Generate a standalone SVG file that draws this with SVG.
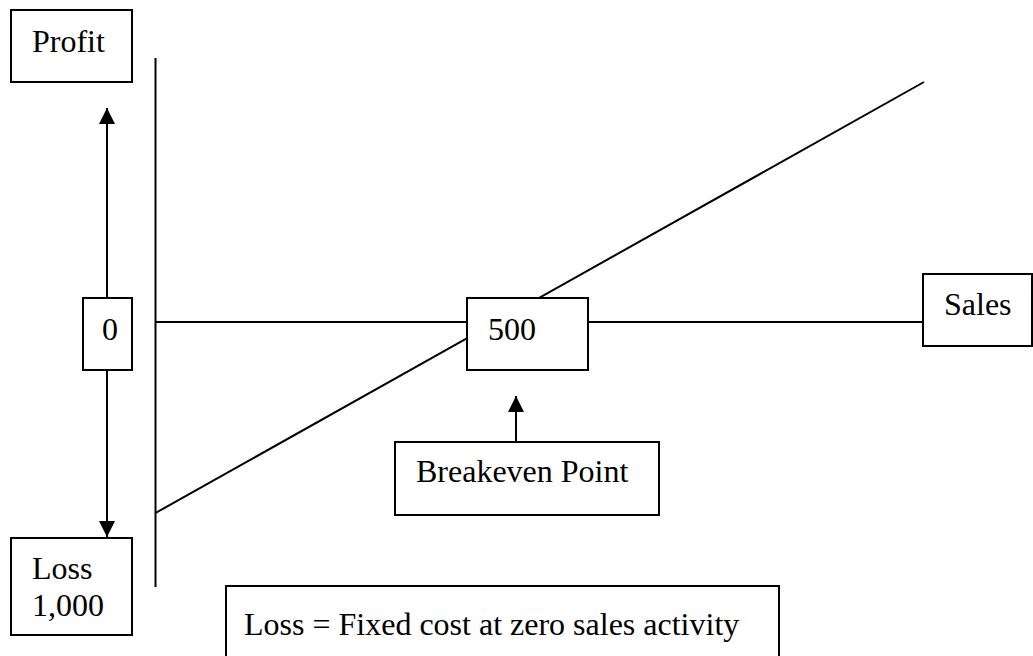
<svg xmlns="http://www.w3.org/2000/svg" width="1033" height="656" viewBox="0 0 1033 656">
<style>
.box{fill:#fff;stroke:#000;stroke-width:2}
.ln{stroke:#000;stroke-width:2;fill:none}
text{font-family:"Liberation Serif","Times New Roman",serif;font-size:32px;fill:#000}
</style>
<defs>
<marker id="ah" viewBox="0 0 10 10" refX="10" refY="5" markerWidth="16" markerHeight="16" markerUnits="userSpaceOnUse" orient="auto">
<path d="M0,0 L10,5 L0,10 Z" fill="#000"/>
</marker>
</defs>
<rect width="1033" height="656" fill="#fff"/>
<g id="connectors">
<line class="ln" x1="155.5" y1="58" x2="155.5" y2="587"/>
<line class="ln" x1="155.5" y1="322" x2="923" y2="322"/>
<line class="ln" x1="155.5" y1="513" x2="924" y2="82"/>
<line class="ln" x1="107" y1="298" x2="107" y2="108" marker-end="url(#ah)"/>
<line class="ln" x1="107" y1="370" x2="107" y2="537" marker-end="url(#ah)"/>
<line class="ln" x1="516" y1="442" x2="516" y2="396" marker-end="url(#ah)"/>
</g>
<g id="profit"><rect class="box" x="11" y="10" width="121" height="72"/><text x="32" y="52">Profit</text></g>
<g id="zero"><rect class="box" x="83" y="298" width="49" height="72"/><text x="102" y="340">0</text></g>
<g id="bep500"><rect class="box" x="467" y="298" width="121" height="72"/><text x="488" y="340">500</text></g>
<g id="sales"><rect class="box" x="923" y="274" width="109" height="72"/><text x="944" y="315">Sales</text></g>
<g id="loss"><rect class="box" x="11" y="538" width="121" height="97"/><text x="32" y="579">Loss</text><text x="32" y="616">1,000</text></g>
<g id="breakeven"><rect class="box" x="395" y="442" width="264" height="73"/><text x="416" y="482">Breakeven Point</text></g>
<g id="note"><rect class="box" x="226" y="586" width="553" height="80"/><text x="244" y="635">Loss = Fixed cost at zero sales activity</text></g>
</svg>
